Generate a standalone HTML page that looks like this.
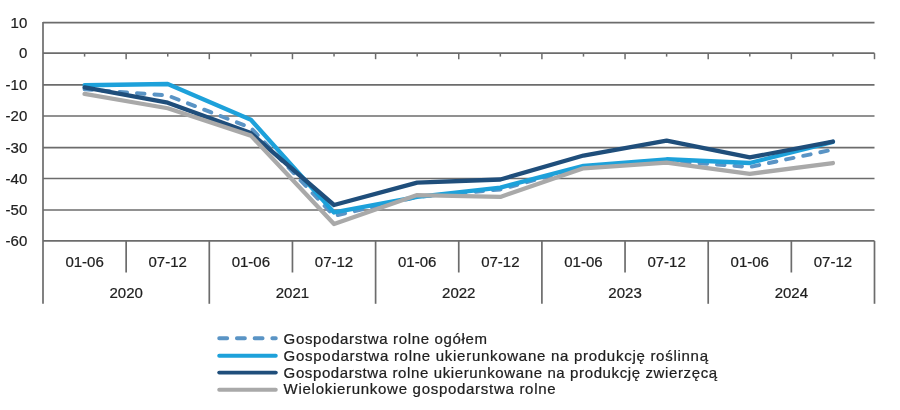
<!DOCTYPE html>
<html lang="pl"><head><meta charset="utf-8"><title>Wykres</title>
<style>
html,body{margin:0;padding:0;background:#fff;}
body{width:900px;height:410px;overflow:hidden;}
svg{display:block;will-change:transform;}
text{font-family:"Liberation Sans",sans-serif;fill:#202020;stroke:#202020;stroke-width:0.22px;}
.ax{font-size:15px;}
.lg{font-size:15px;}
</style></head><body>
<svg width="900" height="410" viewBox="0 0 900 410">
<rect width="900" height="410" fill="#ffffff"/>
<line x1="43.0" y1="22.70" x2="874.5" y2="22.70" stroke="#6c6c6c" stroke-width="1.7"/>
<line x1="43.0" y1="53.20" x2="874.5" y2="53.20" stroke="#6c6c6c" stroke-width="1.7"/>
<line x1="43.0" y1="84.90" x2="874.5" y2="84.90" stroke="#6c6c6c" stroke-width="1.7"/>
<line x1="43.0" y1="116.00" x2="874.5" y2="116.00" stroke="#6c6c6c" stroke-width="1.7"/>
<line x1="43.0" y1="147.60" x2="874.5" y2="147.60" stroke="#6c6c6c" stroke-width="1.7"/>
<line x1="43.0" y1="178.50" x2="874.5" y2="178.50" stroke="#6c6c6c" stroke-width="1.7"/>
<line x1="43.0" y1="210.00" x2="874.5" y2="210.00" stroke="#6c6c6c" stroke-width="1.7"/>
<line x1="43.0" y1="240.90" x2="874.5" y2="240.90" stroke="#6c6c6c" stroke-width="1.7"/>
<line x1="43.0" y1="22.00" x2="43.0" y2="303.8" stroke="#6c6c6c" stroke-width="1.7"/>
<line x1="84.58" y1="53.20" x2="84.58" y2="56.60" stroke="#6c6c6c" stroke-width="1.5"/>
<line x1="126.15" y1="53.20" x2="126.15" y2="59.20" stroke="#6c6c6c" stroke-width="1.5"/>
<line x1="167.73" y1="53.20" x2="167.73" y2="56.60" stroke="#6c6c6c" stroke-width="1.5"/>
<line x1="209.30" y1="53.20" x2="209.30" y2="59.20" stroke="#6c6c6c" stroke-width="1.5"/>
<line x1="250.88" y1="53.20" x2="250.88" y2="56.60" stroke="#6c6c6c" stroke-width="1.5"/>
<line x1="292.45" y1="53.20" x2="292.45" y2="59.20" stroke="#6c6c6c" stroke-width="1.5"/>
<line x1="334.03" y1="53.20" x2="334.03" y2="56.60" stroke="#6c6c6c" stroke-width="1.5"/>
<line x1="375.60" y1="53.20" x2="375.60" y2="59.20" stroke="#6c6c6c" stroke-width="1.5"/>
<line x1="417.18" y1="53.20" x2="417.18" y2="56.60" stroke="#6c6c6c" stroke-width="1.5"/>
<line x1="458.75" y1="53.20" x2="458.75" y2="59.20" stroke="#6c6c6c" stroke-width="1.5"/>
<line x1="500.33" y1="53.20" x2="500.33" y2="56.60" stroke="#6c6c6c" stroke-width="1.5"/>
<line x1="541.90" y1="53.20" x2="541.90" y2="59.20" stroke="#6c6c6c" stroke-width="1.5"/>
<line x1="583.48" y1="53.20" x2="583.48" y2="56.60" stroke="#6c6c6c" stroke-width="1.5"/>
<line x1="625.05" y1="53.20" x2="625.05" y2="59.20" stroke="#6c6c6c" stroke-width="1.5"/>
<line x1="666.62" y1="53.20" x2="666.62" y2="56.60" stroke="#6c6c6c" stroke-width="1.5"/>
<line x1="708.20" y1="53.20" x2="708.20" y2="59.20" stroke="#6c6c6c" stroke-width="1.5"/>
<line x1="749.78" y1="53.20" x2="749.78" y2="56.60" stroke="#6c6c6c" stroke-width="1.5"/>
<line x1="791.35" y1="53.20" x2="791.35" y2="59.20" stroke="#6c6c6c" stroke-width="1.5"/>
<line x1="832.93" y1="53.20" x2="832.93" y2="56.60" stroke="#6c6c6c" stroke-width="1.5"/>
<line x1="874.50" y1="53.20" x2="874.50" y2="59.20" stroke="#6c6c6c" stroke-width="1.5"/>
<line x1="126.15" y1="240.90" x2="126.15" y2="272.5" stroke="#6c6c6c" stroke-width="1.7"/>
<line x1="209.30" y1="240.90" x2="209.30" y2="303.8" stroke="#6c6c6c" stroke-width="1.7"/>
<line x1="292.45" y1="240.90" x2="292.45" y2="272.5" stroke="#6c6c6c" stroke-width="1.7"/>
<line x1="375.60" y1="240.90" x2="375.60" y2="303.8" stroke="#6c6c6c" stroke-width="1.7"/>
<line x1="458.75" y1="240.90" x2="458.75" y2="272.5" stroke="#6c6c6c" stroke-width="1.7"/>
<line x1="541.90" y1="240.90" x2="541.90" y2="303.8" stroke="#6c6c6c" stroke-width="1.7"/>
<line x1="625.05" y1="240.90" x2="625.05" y2="272.5" stroke="#6c6c6c" stroke-width="1.7"/>
<line x1="708.20" y1="240.90" x2="708.20" y2="303.8" stroke="#6c6c6c" stroke-width="1.7"/>
<line x1="791.35" y1="240.90" x2="791.35" y2="272.5" stroke="#6c6c6c" stroke-width="1.7"/>
<line x1="874.50" y1="240.90" x2="874.50" y2="303.8" stroke="#6c6c6c" stroke-width="1.7"/>
<text class="ax" x="27.3" y="27.90" text-anchor="end">10</text>
<text class="ax" x="27.3" y="58.40" text-anchor="end">0</text>
<text class="ax" x="27.3" y="90.10" text-anchor="end">-10</text>
<text class="ax" x="27.3" y="121.20" text-anchor="end">-20</text>
<text class="ax" x="27.3" y="152.80" text-anchor="end">-30</text>
<text class="ax" x="27.3" y="183.70" text-anchor="end">-40</text>
<text class="ax" x="27.3" y="215.20" text-anchor="end">-50</text>
<text class="ax" x="27.3" y="246.10" text-anchor="end">-60</text>
<text class="ax" x="84.58" y="267.2" text-anchor="middle">01-06</text>
<text class="ax" x="167.73" y="267.2" text-anchor="middle">07-12</text>
<text class="ax" x="250.88" y="267.2" text-anchor="middle">01-06</text>
<text class="ax" x="334.03" y="267.2" text-anchor="middle">07-12</text>
<text class="ax" x="417.18" y="267.2" text-anchor="middle">01-06</text>
<text class="ax" x="500.33" y="267.2" text-anchor="middle">07-12</text>
<text class="ax" x="583.48" y="267.2" text-anchor="middle">01-06</text>
<text class="ax" x="666.62" y="267.2" text-anchor="middle">07-12</text>
<text class="ax" x="749.78" y="267.2" text-anchor="middle">01-06</text>
<text class="ax" x="832.93" y="267.2" text-anchor="middle">07-12</text>
<text class="ax" x="126.15" y="297.8" text-anchor="middle">2020</text>
<text class="ax" x="292.45" y="297.8" text-anchor="middle">2021</text>
<text class="ax" x="458.75" y="297.8" text-anchor="middle">2022</text>
<text class="ax" x="625.05" y="297.8" text-anchor="middle">2023</text>
<text class="ax" x="791.35" y="297.8" text-anchor="middle">2024</text>
<polyline points="84.58,89.28 167.73,95.50 250.88,127.85 334.03,215.89 417.18,196.92 500.33,189.45 583.48,166.74 666.62,160.83 749.78,167.05 832.93,149.63" fill="none" stroke="#5a94c5" stroke-width="3.9" stroke-linecap="round" stroke-linejoin="round" stroke-dasharray="7.6 9.9"/>
<polyline points="84.58,85.23 167.73,83.99 250.88,119.76 334.03,212.47 417.18,196.92 500.33,187.58 583.48,165.81 666.62,159.27 749.78,163.01 832.93,141.85" fill="none" stroke="#1da1da" stroke-width="4.3" stroke-linecap="round" stroke-linejoin="round"/>
<polyline points="84.58,87.41 167.73,102.65 250.88,133.14 334.03,205.00 417.18,182.61 500.33,179.49 583.48,155.54 666.62,140.61 749.78,157.41 832.93,141.54" fill="none" stroke="#1f4e7b" stroke-width="4.3" stroke-linecap="round" stroke-linejoin="round"/>
<polyline points="84.58,93.94 167.73,108.25 250.88,135.63 334.03,223.98 417.18,195.05 500.33,196.92 583.48,168.29 666.62,162.69 749.78,173.89 832.93,163.01" fill="none" stroke="#a9a9a9" stroke-width="4.3" stroke-linecap="round" stroke-linejoin="round"/>
<line x1="219.2" y1="338.3" x2="275.8" y2="338.3" stroke="#5a94c5" stroke-width="3.9" stroke-linecap="round" stroke-dasharray="8 9.7"/>
<text class="lg" x="283.6" y="343.7" textLength="203.5" lengthAdjust="spacing">Gospodarstwa rolne ogółem</text>
<line x1="219.2" y1="355.7" x2="275.8" y2="355.7" stroke="#1da1da" stroke-width="3.9" stroke-linecap="round"/>
<text class="lg" x="283.6" y="360.6" textLength="424.4" lengthAdjust="spacing">Gospodarstwa rolne ukierunkowane na produkcję roślinną</text>
<line x1="219.2" y1="372.6" x2="275.8" y2="372.6" stroke="#1f4e7b" stroke-width="3.9" stroke-linecap="round"/>
<text class="lg" x="283.6" y="377.5" textLength="433.5" lengthAdjust="spacing">Gospodarstwa rolne ukierunkowane na produkcję zwierzęcą</text>
<line x1="219.2" y1="389.8" x2="275.8" y2="389.8" stroke="#a9a9a9" stroke-width="3.9" stroke-linecap="round"/>
<text class="lg" x="283.6" y="394.3" textLength="272.0" lengthAdjust="spacing">Wielokierunkowe gospodarstwa rolne</text>
</svg></body></html>
